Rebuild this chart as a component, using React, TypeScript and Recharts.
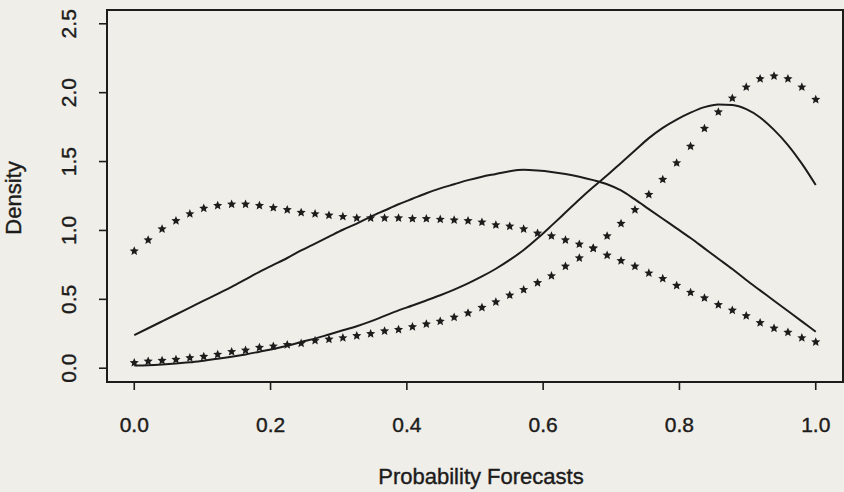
import { LineChart, Line, XAxis, YAxis, ReferenceArea } from "recharts";

// forecast grid, 50 points from 0 to 1
const probs = [
  0, 0.0204, 0.0408, 0.0612, 0.0816, 0.102, 0.1224, 0.1429, 0.1633, 0.1837,
  0.2041, 0.2245, 0.2449, 0.2653, 0.2857, 0.3061, 0.3265, 0.3469, 0.3673, 0.3878,
  0.4082, 0.4286, 0.449, 0.4694, 0.4898, 0.5102, 0.5306, 0.551, 0.5714, 0.5918,
  0.6122, 0.6327, 0.6531, 0.6735, 0.6939, 0.7143, 0.7347, 0.7551, 0.7755, 0.7959,
  0.8163, 0.8367, 0.8571, 0.8776, 0.898, 0.9184, 0.9388, 0.9592, 0.9796, 1,
];

const solidBroad = [
  0.24, 0.29, 0.34, 0.39, 0.44, 0.49, 0.54, 0.59, 0.645, 0.7,
  0.75, 0.8, 0.855, 0.905, 0.955, 1.005, 1.05, 1.1, 1.145, 1.19,
  1.23, 1.27, 1.305, 1.335, 1.365, 1.39, 1.41, 1.43, 1.44, 1.435,
  1.425, 1.41, 1.39, 1.365, 1.335, 1.29, 1.225, 1.155, 1.085, 1.015,
  0.945, 0.87, 0.795, 0.72, 0.64, 0.565, 0.49, 0.415, 0.34, 0.265,
];

const solidSharp = [
  0.02, 0.022, 0.027, 0.034, 0.043, 0.055, 0.068, 0.083, 0.1, 0.12,
  0.14, 0.163, 0.19, 0.215, 0.245, 0.275, 0.305, 0.34, 0.38, 0.42,
  0.455, 0.492, 0.53, 0.571, 0.616, 0.666, 0.722, 0.786, 0.858, 0.943,
  1.035, 1.13, 1.225, 1.315, 1.4, 1.49, 1.58, 1.67, 1.745, 1.805,
  1.855, 1.895, 1.915, 1.91, 1.88, 1.82, 1.73, 1.62, 1.485, 1.33,
];

const starsFlat = [
  0.85, 0.93, 1.01, 1.07, 1.12, 1.16, 1.18, 1.19, 1.19, 1.18,
  1.165, 1.15, 1.13, 1.12, 1.11, 1.1, 1.09, 1.09, 1.09, 1.09,
  1.085, 1.085, 1.08, 1.075, 1.07, 1.06, 1.04, 1.03, 1.01, 0.98,
  0.96, 0.93, 0.9, 0.87, 0.82, 0.78, 0.74, 0.69, 0.65, 0.6,
  0.55, 0.51, 0.46, 0.42, 0.38, 0.33, 0.29, 0.26, 0.22, 0.19,
];

const starsSkewed = [
  0.04, 0.05, 0.056, 0.063, 0.075, 0.085, 0.1, 0.12, 0.13, 0.15,
  0.16, 0.17, 0.18, 0.2, 0.21, 0.22, 0.235, 0.25, 0.27, 0.28,
  0.3, 0.32, 0.34, 0.37, 0.4, 0.44, 0.48, 0.53, 0.57, 0.62,
  0.67, 0.74, 0.8, 0.87, 0.96, 1.05, 1.15, 1.26, 1.37, 1.49,
  1.61, 1.74, 1.86, 1.96, 2.04, 2.1, 2.12, 2.1, 2.04, 1.95,
];

const xTicks = [0, 0.2, 0.4, 0.6, 0.8, 1.0];
const yTicks = [0, 0.5, 1.0, 1.5, 2.0, 2.5];

const data = probs.map((p, i) => ({
  p,
  broad: solidBroad[i],
  sharp: solidSharp[i],
  flat: starsFlat[i],
  skewed: starsSkewed[i],
}));

const INK = "#1d1c1b";
const FONT = "'Liberation Sans', Arial, sans-serif";

function starPath(cx: number, cy: number, R = 4.8, r = 2.2) {
  let d = "";
  for (let k = 0; k < 10; k++) {
    const rad = k % 2 === 0 ? R : r;
    const a = -Math.PI / 2 + (k * Math.PI) / 5;
    d += (k === 0 ? "M" : "L") + (cx + rad * Math.cos(a)).toFixed(2) + "," + (cy + rad * Math.sin(a)).toFixed(2);
  }
  return d + "Z";
}

function StarDot(props: any) {
  const { cx, cy, index, dataKey } = props;
  if (cx == null || cy == null) return <g key={`${dataKey}-${index}`} />;
  return <path key={`${dataKey}-${index}`} d={starPath(cx, cy)} fill={INK} />;
}

const textStyle = { fill: INK, stroke: INK, strokeWidth: 0.4, fontFamily: FONT };

function XTick({ x, y, payload }: any) {
  return (
    <text x={x} y={y + 42} textAnchor="middle" fontSize={21} {...textStyle}>
      {Number(payload.value).toFixed(1)}
    </text>
  );
}

function YTick({ x, y, payload }: any) {
  const bx = x - 23;
  return (
    <text x={bx} y={y} transform={`rotate(-90, ${bx}, ${y})`} textAnchor="middle" fontSize={21} {...textStyle}>
      {Number(payload.value).toFixed(1)}
    </text>
  );
}

export default function App() {
  return (
    <div style={{ position: "absolute", left: 0, top: 0, width: 844, height: 492, background: "#efeee9" }}>
      <LineChart width={844} height={492} data={data} margin={{ top: 10, right: 1, left: 0, bottom: 50 }}>
        <XAxis
          dataKey="p"
          type="number"
          domain={[-0.04, 1.04]}
          ticks={xTicks}
          height={60}
          axisLine={false}
          tickSize={8}
          tickMargin={0}
          tickLine={{ stroke: INK, strokeWidth: 1.6 }}
          tick={<XTick />}
          interval={0}
          allowDataOverflow
          label={{
            content: () => (
              <text x={481} y={484} textAnchor="middle" fontSize={22} {...textStyle}>
                Probability Forecasts
              </text>
            ),
          }}
        />
        <YAxis
          type="number"
          domain={[-0.1, 2.6]}
          ticks={yTicks}
          width={107}
          axisLine={false}
          tickSize={8}
          tickMargin={0}
          tickLine={{ stroke: INK, strokeWidth: 1.6 }}
          tick={<YTick />}
          interval={0}
          allowDataOverflow
          label={{
            content: () => (
              <text x={21} y={198} transform="rotate(-90, 21, 198)" textAnchor="middle" fontSize={22} {...textStyle}>
                Density
              </text>
            ),
          }}
        />
        <ReferenceArea x1={-0.04} x2={1.04} y1={-0.1} y2={2.6} fill="none" stroke={INK} strokeWidth={2} ifOverflow="visible" />
        <Line dataKey="broad" type="monotone" stroke={INK} strokeWidth={2} dot={false} isAnimationActive={false} />
        <Line dataKey="sharp" type="monotone" stroke={INK} strokeWidth={2} dot={false} isAnimationActive={false} />
        <Line dataKey="flat" stroke="none" dot={StarDot} activeDot={false} isAnimationActive={false} />
        <Line dataKey="skewed" stroke="none" dot={StarDot} activeDot={false} isAnimationActive={false} />
      </LineChart>
    </div>
  );
}
